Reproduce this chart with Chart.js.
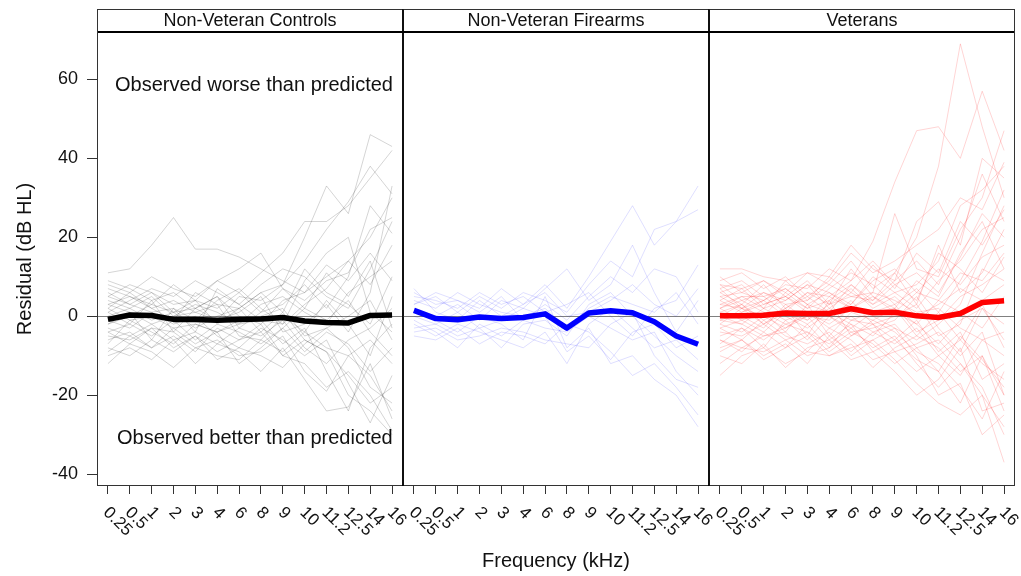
<!DOCTYPE html>
<html>
<head>
<meta charset="utf-8">
<script src="https://cdn.jsdelivr.net/npm/chart.js@4.4.1/dist/chart.umd.min.js"></script>
<style>
  body { margin: 0; background: #fff; }
  #wrap { position: relative; width: 1021px; height: 576px; overflow: hidden; background: #fff; }
  canvas { position: absolute; top: 0; }
</style>
</head>
<body>
<div id="wrap">
  <canvas id="c1" width="407" height="576" style="left:0px"></canvas>
  <canvas id="c2" width="314" height="576" style="left:399px"></canvas>
  <canvas id="c3" width="314" height="576" style="left:705px"></canvas>
</div>
<script>
const frequencies = ["0.25", "0.5", "1", "2", "3", "4", "6", "8", "9", "10", "11.2", "12.5", "14", "16"];
const yTicks = [-40, -20, 0, 20, 40, 60];
const panelTitles = ["Non-Veteran Controls", "Non-Veteran Firearms", "Veterans"];

const controlsMean = [-0.8, 0.3, 0.2, -0.8, -0.8, -1, -0.8, -0.7, -0.3, -1.2, -1.6, -1.7, 0.2, 0.3];
const firearmsMean = [1.5, -0.6, -0.9, -0.2, -0.6, -0.3, 0.6, -3.0, 0.8, 1.4, 0.9, -1.4, -5.0, -7.1];
const veteransMean = [0.1, 0.1, 0.25, 0.8, 0.7, 0.7, 1.9, 0.9, 1.0, 0.1, -0.3, 0.7, 3.5, 3.9];

const controlsLines = [
  [11, 12, 18, 25, 17, 17, 15, 12, 9, 6, 10, 14, 20, 30],
  [3, 5, 2, 4, 1, 3, 2, 6, 8, 20, 33, 26, 46, 43],
  [5, 8, 6, 3, 4, 9, 6, 11, 16, 24, 24, 28, 35, 42],
  [-2, 0, 3, 1, 2, -1, 5, 4, 8, 14, 22, 29, 38, 31],
  [8, 6, 10, 7, 5, 9, 12, 16, 7, 4, 9, 11, 22, 25],
  [-6, -4, -8, -5, -9, -3, -6, -2, -10, -12, -18, -14, -20, -29],
  [-10, -8, -11, -6, -12, -7, -9, -14, -8, -16, -24, -23, -12, -26],
  [2, -1, 0, -3, -2, -4, -1, 0, 2, -5, -3, -8, -18, -22],
  [-12, -7, -9, -13, -8, -10, -11, -6, -9, -4, -8, -10, -6, -12],
  [4, 2, 5, 0, 3, 1, -2, 3, 5, 1, -2, 6, 10, 14],
  [-3, -5, -2, -6, -4, -7, -3, -5, -1, -8, -12, -6, -3, 2],
  [6, 3, 1, 2, -1, 4, 7, 2, -2, 3, 7, 14, 8, 18],
  [0, 2, -1, 1, -3, 0, 2, -4, 1, -6, -9, -15, -22, -18],
  [-8, -10, -6, -9, -5, -11, -8, -10, -13, -7, -3, 0, 4, -6],
  [1, 4, 7, 5, 9, 6, 3, 8, 12, 10, 5, 2, 12, 24],
  [-4, -2, -5, -1, -6, -2, -4, -7, -3, 2, -1, 4, -4, -10],
  [9, 7, 4, 6, 2, 5, 0, -2, 4, 6, 13, 9, 16, 9],
  [-1, -3, 1, -2, 0, -5, -8, -3, -6, -10, -6, -17, -27, -15],
  [3, 1, -2, 0, 1, -1, 1, 5, -4, -2, 3, -4, 6, 33],
  [-5, -6, -3, -4, -8, -6, -10, -9, -5, -14, -19, -10, -15, -24],
  [7, 5, 3, 8, 4, 2, 6, 1, 3, 8, 2, 10, 28, 21],
  [-7, -1, -4, -7, -2, -4, -2, -1, -7, -3, -14, -24, -8, -2],
  [2, 6, 2, -1, 6, 3, -5, -6, 0, -4, 4, -2, -10, 5],
  [-2, 1, -6, 2, -4, 7, 3, -1, -2, 9, 16, 20, 1, -4],
  [-4, -7, -3, -8, -5, -9, -6, -4, -10, -6, -9, -20, -24, -30],
  [5, 3, 6, 1, 4, -2, 2, 6, 1, 12, 6, 3, -2, 10],
  [-9, -5, -8, -3, -7, -4, -12, -8, -3, -9, -4, -7, -14, -8],
  [1, -2, 4, -4, 2, 5, -3, 1, 7, 2, 11, 5, 14, -3],
];

const firearmsLines = [
  [6, 3, 4, 2, 7, 3, 8, 2, 10, 19, 28, 18, 24, 33],
  [3, 5, 1, 5, 2, 6, 4, 1, 8, 14, 10, 22, 24, 27],
  [-3, -2, -5, -3, -8, -2, -1, -5, 3, 6, 0, -5, -10, -14],
  [1, -1, -4, 0, -2, -6, 5, -8, -3, -12, -10, -16, -20, -28],
  [-5, -6, -3, -7, -4, -5, -7, -2, -4, -9, -15, -12, -18, -25],
  [4, 2, 6, 3, 1, 0, 2, -3, 2, 5, 3, 1, 6, -2],
  [-1, -4, -8, -2, -5, -1, -3, -4, 0, -3, -6, -4, -14, -20],
  [7, 1, -1, 4, 0, 3, 6, 0, 1, 4, 8, 3, 0, 7],
  [-2, -5, -2, -4, -6, -8, -4, -12, -2, 2, -3, -8, -6, -11],
  [2, 0, 3, -1, 4, 2, 7, 12, 4, 8, 18, 6, -4, 4],
  [-4, -3, -6, -5, -3, -4, -6, -7, -8, -2, 1, -10, -16, -18],
  [5, 4, 2, 6, 3, 5, 1, 3, 6, 0, -5, 2, 4, 13],
  [0, -2, 1, -3, -1, 2, 0, -9, -5, -11, -4, -2, -8, -5],
  [3, 6, 4, 1, 5, -1, 3, -1, 5, 10, 6, 12, 10, 1],
];

const veteransLines = [
  [12, 12, 10, 9, 11, 8, 14, 7, 11, 20, 38, 69, 48, 30],
  [5, 6, 4, 8, 7, 12, 9, 19, 34, 47, 48, 40, 57, 42],
  [3, 2, 6, 3, 4, 8, 5, 6, 26, 12, 10, 22, 30, 47],
  [8, 7, 9, 6, 11, 10, 18, 12, 9, 24, 29, 18, 40, 35],
  [1, 3, -1, 2, 5, 1, 3, 10, 6, 8, 14, 28, 32, 38],
  [-5, -3, -6, -2, -4, -7, -3, -8, -5, -12, -18, -12, -20, -28],
  [-15, -10, -8, -12, -9, -10, -8, -6, -11, -17, -22, -25, -20, -37],
  [0, -2, 2, -1, 1, -3, 0, -4, -2, -8, -14, -22, -10, -20],
  [4, 1, 3, 5, 2, 4, 8, 3, 6, 2, 9, 14, 22, 25],
  [-8, -6, -10, -7, -12, -5, -9, -4, -7, -3, -10, -6, -12, -16],
  [7, 9, 5, 7, 3, 6, 2, 5, 1, 6, 12, 8, 15, 18],
  [-3, -1, -4, 1, -2, 2, -1, 1, 3, -4, -1, 5, 8, 12],
  [2, 4, 1, -2, 0, -1, 4, -2, 0, 3, -5, -2, 12, 9],
  [-10, -12, -7, -13, -8, -6, -11, -9, -14, -20, -16, -8, -24, -22],
  [6, 3, 8, 2, 6, 5, 9, 14, 8, 11, 6, 15, 26, 20],
  [-2, -4, 0, -3, 1, -2, 2, 6, 4, 1, 2, -3, -6, -10],
  [9, 11, 7, 10, 5, 9, 16, 11, 14, 18, 22, 30, 27, 39],
  [-6, -8, -5, -4, -9, -3, -6, -11, -9, -14, -10, -15, -6, -4],
  [1, 0, -3, 3, -1, 5, 2, 0, -3, -6, -2, 3, 16, 28],
  [-12, -8, -9, -6, -10, -8, -4, -7, -12, -8, -6, -12, -18, -30],
  [3, 5, 2, 4, 8, 2, 6, 3, 8, 4, 16, 12, 6, 15],
  [-1, 1, 4, 0, -3, 1, -2, -5, 1, -2, 4, 1, -3, 5],
  [5, 2, 0, 6, 2, 7, 11, 8, 3, 7, 1, 9, 19, 32],
  [-4, -5, -2, -6, -4, -9, -5, -2, -6, -11, -14, -5, -11, -18],
  [10, 6, 9, 5, 9, 3, 7, 2, 5, 0, 3, 7, 4, 8],
  [-7, -3, -8, -1, -6, 0, -4, -3, -1, 5, -3, -9, 2, -2],
  [2, -1, 1, -4, 3, -5, 1, -1, -4, -9, -12, -18, -26, -14],
  [0, 3, -2, 1, -1, 3, 5, 4, 9, 14, 8, 20, 36, 24],
  [6, 8, 3, 5, 1, 0, -3, 1, 2, -2, -7, -1, 2, -6],
  [-9, -6, -11, -8, -5, -10, -7, -13, -8, -5, -8, -14, -10, -24],
  [4, 7, 2, 9, 4, 10, 6, 13, 7, 16, 11, 24, 18, 27],
  [-3, -6, -1, -5, -7, -4, -10, -6, -3, -10, -20, -17, -30, -25],
  [8, 4, 6, 4, 8, 6, 3, 9, 12, 6, 4, 11, 9, 16],
  [-1, -2, -5, -3, 0, -6, -2, -9, -6, -1, -9, -4, -16, -12],
  [2, 5, 5, 1, 6, 3, 12, 5, 2, 9, 5, 16, 24, 12],
  [-6, -9, -4, -8, -2, -8, -1, -2, -9, -7, -4, -10, -4, -20],
  [7, 2, 4, 7, 3, 1, 8, 4, 11, 3, 18, 6, 11, 22],
  [-2, 2, -2, 2, -5, 4, -5, -1, 2, -5, 1, -6, 3, -8],
];

const FONT = '"Liberation Sans", Arial, sans-serif';

// frame, strip header, zero line, rotated x labels
const panelPlugin = {
  id: "panel",
  beforeDatasetsDraw(chart, args, opts) {
    const { ctx, chartArea } = chart;
    const y0 = Math.round(chart.scales.y.getPixelForValue(0)) + 0.5;
    ctx.save();
    ctx.strokeStyle = "#808080";
    ctx.lineWidth = 1;
    ctx.beginPath();
    ctx.moveTo(chartArea.left, y0);
    ctx.lineTo(chartArea.right, y0);
    ctx.stroke();
    ctx.restore();
  },
  afterDraw(chart, args, opts) {
    const { ctx, chartArea } = chart;
    const { left, right, top, bottom } = chartArea;
    const stripTop = 9.5;
    ctx.save();

    // strip
    ctx.strokeStyle = "#333";
    ctx.lineWidth = 1;
    ctx.beginPath();
    ctx.moveTo(left, stripTop);
    ctx.lineTo(right, stripTop);
    ctx.moveTo(left, bottom - 0.5);
    ctx.lineTo(right, bottom - 0.5);
    ctx.stroke();

    ctx.strokeStyle = "#000";
    ctx.lineWidth = 2;
    ctx.beginPath();
    ctx.moveTo(left, top);
    ctx.lineTo(right, top);
    ctx.stroke();

    // side edges
    [["left", left], ["right", right]].forEach(([side, x]) => {
      const inner = opts[side] === "inner";
      ctx.strokeStyle = inner ? "#000" : "#333";
      ctx.lineWidth = inner ? 1.5 : 1;
      const px = inner ? x : (side === "left" ? x + 0.5 : x - 0.5);
      ctx.beginPath();
      ctx.moveTo(px, stripTop);
      ctx.lineTo(px, bottom);
      ctx.stroke();
    });

    ctx.fillStyle = "#111";
    ctx.font = "18px " + FONT;
    ctx.textAlign = "center";
    ctx.textBaseline = "middle";
    ctx.fillText(opts.title, (left + right) / 2, (stripTop + top) / 2 + 0.5);

    // x tick labels, rotated clockwise
    const xs = chart.scales.x;
    ctx.font = "17px " + FONT;
    ctx.textAlign = "left";
    ctx.textBaseline = "middle";
    frequencies.forEach((lab, i) => {
      const x = xs.getPixelForValue(i);
      ctx.save();
      ctx.translate(x - 2, bottom + 24);
      ctx.rotate(Math.PI / 4);
      ctx.fillText(lab, 0, 0);
      ctx.restore();
    });

    if (opts.notes) {
      const ys = chart.scales.y;
      ctx.font = "20px " + FONT;
      ctx.textAlign = "left";
      ctx.textBaseline = "middle";
      ctx.fillText("Observed worse than predicted", left + 18, ys.getPixelForValue(58.5));
      ctx.fillText("Observed better than predicted", left + 20, ys.getPixelForValue(-31));
    }
    ctx.restore();
  },
};

function makeDatasets(lines, mean, faint, strong) {
  const ds = lines.map((values) => ({
    data: values,
    borderColor: faint,
    borderWidth: 1,
    pointRadius: 0,
    tension: 0,
  }));
  ds.push({
    data: mean,
    borderColor: strong,
    borderWidth: 5.5,
    pointRadius: 0,
    tension: 0,
    borderJoinStyle: "round",
  });
  return ds;
}

function createPanel(canvas, datasets, panel) {
  return new Chart(canvas, {
    type: "line",
    data: { labels: frequencies, datasets },
    plugins: [panelPlugin],
    options: {
      responsive: false,
      animation: false,
      devicePixelRatio: 1,
      layout: { padding: { top: 32, left: panel.padLeft, right: 4, bottom: 0 } },
      plugins: {
        legend: { display: false },
        tooltip: { enabled: false },
        panel: panel,
      },
      scales: {
        x: {
          type: "category",
          offset: true,
          grid: { offset: false, drawOnChartArea: false, drawTicks: true, tickLength: 8, tickColor: "#333" },
          border: { display: false },
          ticks: { display: false },
          title: {
            display: panel.xTitle,
            text: "Frequency (kHz)",
            color: "#111",
            font: { family: FONT, size: 20 },
            padding: { top: 0, bottom: 3 },
          },
          afterFit: (scale) => { scale.height = 90; },
        },
        y: {
          display: panel.yAxis,
          min: -43,
          max: 72,
          afterBuildTicks: (scale) => { scale.ticks = yTicks.map((v) => ({ value: v })); },
          grid: { drawOnChartArea: false, drawTicks: true, tickLength: 10, tickColor: "#333" },
          border: { display: false },
          ticks: { color: "#111", font: { family: FONT, size: 18 }, padding: 9 },
          title: {
            display: panel.yAxis,
            text: "Residual (dB HL)",
            color: "#111",
            font: { family: FONT, size: 20 },
            padding: { top: 13, bottom: 0 },
          },
          afterFit: (scale) => { scale.width = panel.yAxis ? 97 : 0; },
        },
      },
    },
  });
}

createPanel(
  document.getElementById("c1"),
  makeDatasets(controlsLines, controlsMean, "rgba(0,0,0,0.17)", "#000"),
  { title: panelTitles[0], left: "outer", right: "inner", padLeft: 0, yAxis: true, xTitle: false, notes: true }
);
createPanel(
  document.getElementById("c2"),
  makeDatasets(firearmsLines, firearmsMean, "rgba(0,0,255,0.13)", "#0000ff"),
  { title: panelTitles[1], left: "inner", right: "inner", padLeft: 4, yAxis: false, xTitle: true, notes: false }
);
createPanel(
  document.getElementById("c3"),
  makeDatasets(veteransLines, veteransMean, "rgba(255,0,0,0.17)", "#ff0000"),
  { title: panelTitles[2], left: "inner", right: "outer", padLeft: 4, yAxis: false, xTitle: false, notes: false }
);
</script>
</body>
</html>
